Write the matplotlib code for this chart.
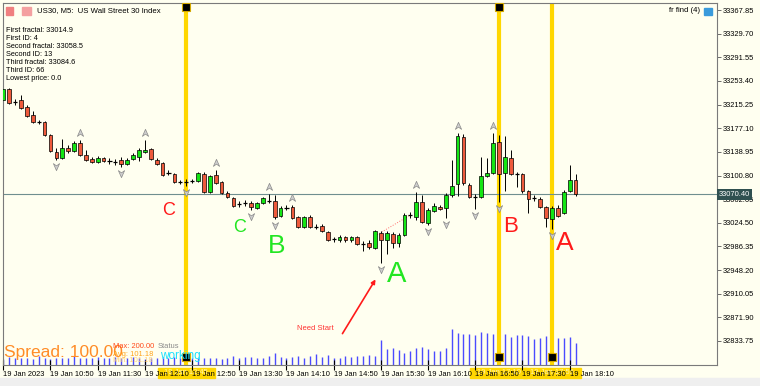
import matplotlib
matplotlib.use('Agg')
import matplotlib.pyplot as plt
import matplotlib.transforms as mtransforms
from matplotlib.patches import Rectangle, FancyArrowPatch
from matplotlib.path import Path
import numpy as np

# US30 M5 candles, 19 Jan 2023 10:10 .. 18:15
opens = [33222.6, 33240.4, 33219.4, 33222.6, 33211.3, 33198.4, 33187.1, 33187.1, 33166.2, 33138.7,
         33129.0, 33145.2, 33140.3, 33153.2, 33133.9, 33127.4, 33122.6, 33129.0, 33124.2, 33122.6,
         33125.8, 33119.4, 33127.4, 33130.6, 33138.7, 33143.6, 33125.8, 33121.0, 33104.8, 33103.2,
         33090.3, 33090.3, 33091.9, 33091.9, 33103.2, 33074.2, 33101.6, 33090.3, 33072.6, 33064.5,
         33054.8, 33056.4, 33056.4, 33048.4, 33056.4, 33059.6, 33059.6, 33035.4, 33048.4, 33050.0,
         33033.8, 33017.7, 33033.8, 33017.7, 33019.3, 33009.6, 32998.3, 32996.7, 33001.6, 32996.7,
         33001.6, 32990.3, 32991.9, 32983.8, 33008.0, 32996.7, 33006.4, 32991.9, 33004.8, 33037.1,
         33033.8, 33058.0, 33024.1, 33043.5, 33050.0, 33048.4, 33069.3, 33087.1, 33162.9, 33085.5,
         33066.1, 33066.1, 33100.0, 33104.8, 33154.9, 33104.8, 33129.0, 33103.2, 33103.2, 33075.8,
         33064.5, 33062.9, 33050.0, 33030.6, 33048.4, 33040.3, 33075.8, 33093.5]
closes = [33240.4, 33217.8, 33219.4, 33209.7, 33196.8, 33187.1, 33187.6, 33166.2, 33140.3, 33129.0,
          33145.2, 33140.3, 33153.2, 33133.9, 33125.8, 33122.6, 33129.0, 33124.2, 33123.8, 33122.2,
          33119.4, 33125.8, 33133.9, 33141.9, 33141.9, 33127.4, 33119.4, 33101.6, 33104.4, 33090.3,
          33089.9, 33090.7, 33092.3, 33104.8, 33074.2, 33100.0, 33088.7, 33072.6, 33066.1, 33051.6,
          33054.4, 33056.8, 33050.0, 33056.4, 33064.5, 33060.0, 33033.8, 33048.4, 33048.8, 33032.2,
          33017.7, 33033.8, 33017.7, 33017.3, 33011.2, 32996.7, 32998.7, 33001.6, 32996.7, 33001.6,
          32990.3, 32990.7, 32985.4, 33011.2, 32996.7, 33008.0, 32991.9, 33004.8, 33037.1, 33037.5,
          33058.0, 33025.8, 33045.1, 33051.6, 33046.7, 33069.3, 33083.9, 33164.5, 33088.7, 33066.1,
          33066.5, 33100.0, 33104.8, 33153.2, 33103.2, 33130.6, 33103.2, 33102.8, 33075.8, 33062.9,
          33064.9, 33050.0, 33032.2, 33048.4, 33035.4, 33074.2, 33093.5, 33070.4]
highs = [33243.6, 33242.0, 33224.2, 33230.7, 33214.6, 33204.9, 33190.4, 33188.7, 33167.8, 33145.2,
         33159.7, 33150.0, 33156.5, 33158.1, 33141.9, 33130.6, 33132.3, 33130.6, 33129.0, 33127.4,
         33130.6, 33129.0, 33137.1, 33145.2, 33158.1, 33145.2, 33129.0, 33122.6, 33109.7, 33104.8,
         33093.5, 33095.2, 33095.2, 33106.4, 33106.4, 33101.6, 33109.7, 33091.9, 33075.8, 33066.1,
         33059.6, 33061.3, 33059.6, 33058.0, 33066.1, 33070.9, 33069.3, 33051.6, 33053.2, 33053.2,
         33035.4, 33035.4, 33037.1, 33022.5, 33022.5, 33011.2, 33001.6, 33004.8, 33003.2, 33003.2,
         33003.2, 32995.1, 32996.7, 33012.8, 33011.2, 33011.2, 33009.6, 33008.0, 33040.3, 33041.9,
         33074.2, 33069.3, 33048.4, 33056.4, 33053.2, 33072.6, 33125.8, 33169.4, 33167.8, 33088.7,
         33070.9, 33130.6, 33129.0, 33169.4, 33166.2, 33164.5, 33141.9, 33106.4, 33104.8, 33077.4,
         33069.3, 33066.1, 33051.6, 33051.6, 33053.2, 33077.4, 33117.7, 33103.2]
lows = [33219.4, 33216.2, 33214.6, 33208.1, 33195.2, 33185.5, 33183.9, 33164.5, 33138.7, 33125.8,
        33127.4, 33137.1, 33138.7, 33132.3, 33124.2, 33121.0, 33121.0, 33122.6, 33119.4, 33117.7,
        33114.5, 33117.7, 33125.8, 33124.2, 33137.1, 33125.8, 33117.7, 33100.0, 33101.6, 33088.7,
        33087.1, 33084.6, 33088.7, 33090.3, 33072.6, 33072.6, 33087.1, 33070.9, 33064.5, 33050.0,
        33050.0, 33051.6, 33045.1, 33046.7, 33054.8, 33056.4, 33030.6, 33033.8, 33045.1, 33030.6,
        33016.1, 33016.1, 33016.1, 33014.5, 33009.6, 32995.1, 32993.5, 32993.5, 32993.5, 32993.5,
        32988.6, 32979.0, 32982.2, 32982.2, 32959.6, 32974.1, 32983.8, 32985.4, 33003.2, 33032.2,
        33029.0, 33024.1, 33020.9, 33041.9, 33045.1, 33032.2, 33066.1, 33067.7, 33085.5, 33064.5,
        33046.7, 33064.5, 33098.4, 33103.2, 33058.5, 33075.8, 33101.6, 33082.2, 33072.6, 33040.3,
        33059.6, 33048.4, 33017.7, 33014.9, 33033.8, 33038.7, 33074.2, 33067.7]
tick_volume = [60, 80, 70, 70, 70, 60, 90, 70, 60, 70, 70, 70, 90, 70, 70, 70, 80, 70, 70, 80,
               70, 70, 80, 70, 60, 70, 70, 80, 70, 80, 70, 80, 70, 70, 70, 70, 70, 60, 70, 90,
               70, 80, 77, 70, 67, 87, 117, 77, 67, 77, 87, 67, 87, 110, 83, 100, 70, 70, 93, 83,
               87, 93, 103, 87, 250, 160, 167, 153, 120, 143, 167, 183, 160, 143, 143, 173, 360, 320, 313, 313,
               300, 330, 320, 310, 300, 310, 283, 303, 303, 293, 257, 270, 287, 277, 270, 270, 277, 220]

up_fractals = [13, 24, 36, 45, 49, 70, 77, 83]
down_fractals = [9, 20, 31, 42, 46, 64, 72, 75, 80, 84, 93]
marked_bars = [31, 84, 93]
marked_times = ['19 Jan 12:45', '19 Jan 17:10', '19 Jan 17:55']
trend_bars = [63, 69]
trend_prices = [33003.2, 33037.1]
current_price = 33070.40

price_ticks = [33367.85, 33329.70, 33291.55, 33253.40, 33215.25, 33177.10, 33138.95, 33100.80,
               33062.65, 33024.50, 32986.35, 32948.20, 32910.05, 32871.90, 32833.75]
time_ticks = [0, 8, 16, 24, 32, 40, 48, 56, 64, 72, 80, 88, 96]
time_labels = ['19 Jan 2023', '19 Jan 10:50', '19 Jan 11:30', '19 Jan 12:10', '19 Jan 12:50',
               '19 Jan 13:30', '19 Jan 14:10', '19 Jan 14:50', '19 Jan 15:30', '19 Jan 16:10',
               '19 Jan 16:50', '19 Jan 17:30', '19 Jan 18:10']
info_lines = ['First fractal: 33014.9', 'First ID: 4', 'Second fractal: 33058.5', 'Second ID: 13',
              'Third fractal: 33084.6', 'Third ID: 66', 'Lowest price: 0.0']

W, H = 760, 386
BG = '#FFFFF0'
plt.rcParams['font.family'] = ['Liberation Sans', 'DejaVu Sans']


def fx(px):
    return px / W


def fy(py):
    return 1 - py / H


fig = plt.figure(figsize=(W / 100, H / 100), dpi=100, facecolor=BG)
ax = fig.add_axes([fx(3), fy(365), fx(717) - fx(3), fy(3) - fy(365)])
vax = ax.twinx()
ax.set_zorder(2)
vax.set_zorder(1)
ax.patch.set_visible(False)

ax.set_xlim(-0.05, 120.97)
ax.set_ylim(32795.0, 33379.2)

x = np.arange(len(opens))
o = np.array(opens)
c = np.array(closes)

# volume + marker lines live on the twin axes (behind the candles)
vax.vlines(x, 0, tick_volume, color='#4B4BFF', lw=1.0, zorder=1)
for b in marked_bars:
    vax.axvline(b, color='#FFD700', lw=3.0, zorder=2)
vax.set_ylim(0, 3620)
vax.axis('off')

# price line
ax.axhline(current_price, color='#6F8F8F', lw=0.8, zorder=1)
ax.plot(trend_bars, trend_prices, color='#FF7070', lw=0.7, ls=':', zorder=1.5)

# candles
ax.vlines(x, lows, highs, color='black', lw=0.7, zorder=2)
bull = c > o + 0.5
bear = c < o - 0.5
doji = ~(bull | bear)
ax.bar(x[bull], (c - o)[bull], bottom=o[bull], width=0.62, color='#14E614',
       edgecolor='black', linewidth=0.5, zorder=3)
ax.bar(x[bear], (o - c)[bear], bottom=c[bear], width=0.62, color='#EE5A3C',
       edgecolor='black', linewidth=0.5, zorder=3)
ax.hlines(c[doji], x[doji] - 0.35, x[doji] + 0.35, color='black', lw=0.9, zorder=3)

# fractal arrows
up_marker = Path([(0, 1), (0.75, -0.7), (0, -0.15), (-0.75, -0.7), (0, 1)],
                 [Path.MOVETO, Path.LINETO, Path.LINETO, Path.LINETO, Path.CLOSEPOLY])
down_marker = Path([(0, -1), (0.75, 0.7), (0, 0.15), (-0.75, 0.7), (0, -1)],
                   [Path.MOVETO, Path.LINETO, Path.LINETO, Path.LINETO, Path.CLOSEPOLY])
hi = np.array(highs)
lo = np.array(lows)
ax.plot(up_fractals, hi[up_fractals] + 11, ls='none', marker=up_marker, ms=6,
        mfc='#CFCFCF', mec='#8A8A8A', mew=0.5, zorder=3)
ax.plot(down_fractals, lo[down_fractals] - 10, ls='none', marker=down_marker, ms=6,
        mfc='#CFCFCF', mec='#8A8A8A', mew=0.5, zorder=3)

# black handles on the vertical lines
trans = mtransforms.blended_transform_factory(ax.transData, ax.transAxes)
ax.plot(marked_bars[:2], [0.989, 0.989], transform=trans, ls='none', marker='s', ms=6.3,
        mfc='black', mec='#D4A800', mew=0.8, clip_on=False, zorder=6)
ax.plot(marked_bars, [0.022] * len(marked_bars), transform=trans, ls='none', marker='s', ms=6.3,
        mfc='black', mec='#D4A800', mew=0.8, clip_on=False, zorder=6)
for b, lab in zip(marked_bars, marked_times):
    ax.add_patch(Rectangle((b - 4.85, -0.036), 9.7, 0.028, transform=trans, color='#FFD700',
                           clip_on=False, zorder=1))
    ax.text(b, -0.022, lab, transform=trans, ha='center', va='center', fontsize=5.4,
            color='#FFF2A8', clip_on=False, zorder=1.5)

# axes styling
ax.yaxis.tick_right()
ax.set_yticks(price_ticks)
ax.set_yticklabels([f'{v:.2f}' for v in price_ticks])
ax.set_xticks(time_ticks)
ax.set_xticklabels(time_labels, ha='left')
ax.tick_params(axis='y', length=3, width=0.6, pad=1, labelsize=5.4, color='#555555')
ax.tick_params(axis='x', direction='inout', length=7, width=0.8, pad=1, labelsize=5.4)
for s in ax.spines.values():
    s.set_color('#7A7A7A')
    s.set_linewidth(0.8)

ptrans = mtransforms.blended_transform_factory(ax.transAxes, ax.transData)
ax.text(1.003, current_price, f'{current_price:.2f}', transform=ptrans, va='center', ha='left',
        fontsize=5.4, color='white', clip_on=False, zorder=7,
        bbox=dict(boxstyle='square,pad=0.25', fc='#2F5050', ec='none'))

# header + info block
fig.add_artist(Rectangle((fx(6), fy(15)), 7 / W, 8 / H, color='#F08080'))
fig.add_artist(Rectangle((fx(22), fy(15)), 9 / W, 8 / H, color='#F4A0A0'))
fig.text(fx(37), fy(11), 'US30, M5:  US Wall Street 30 Index', fontsize=5.6, va='center')
for i, line in enumerate(info_lines):
    fig.text(fx(6), fy(30.7 + 8.05 * i), line, fontsize=5.3, va='center')
fig.text(fx(700), fy(11), 'fr find (4)', fontsize=5.6, va='center', ha='right')
fig.add_artist(Rectangle((fx(704), fy(15)), 8 / W, 7 / H, color='#3A9BDC'))

# hand-drawn notes
red = '#FF1A1A'
green = '#22E622'
for txt, px, py, size, col in [('C', 169, 210, 13, red), ('C', 240, 227, 13, green),
                               ('B', 277, 246, 19, green), ('A', 397, 274, 21, green),
                               ('B', 511, 227, 16, red), ('A', 565, 243, 19, red)]:
    fig.text(fx(px), fy(py), txt, fontsize=size, color=col, ha='center', va='center')
fig.text(fx(315), fy(328), 'Need Start', fontsize=5.5, color='#FF3030', ha='center', va='center')
fig.add_artist(FancyArrowPatch((fx(341), fy(336)), (fx(377), fy(277)), transform=fig.transFigure,
                               arrowstyle='-|>', mutation_scale=6, color=red, lw=1.2))

# spread panel
fig.text(fx(4), fy(352), 'Spread: 100.00', fontsize=12.5, color='#FF8C26', va='center', zorder=5)
fig.text(fx(113), fy(347), 'Max: 200.00', fontsize=5.4, color='#FF4A1A', va='center', zorder=6)
fig.text(fx(113), fy(354), 'Avg: 101.18', fontsize=5.4, color='#FFA51A', va='center', zorder=6)
fig.text(fx(113), fy(361), 'Min: 101.18', fontsize=5.4, color='#FFD27A', va='center', zorder=6)
fig.text(fx(158), fy(347), 'Status', fontsize=5.4, color='#8A8A8A', va='center', zorder=6)
fig.text(fx(160), fy(356), 'working', fontsize=8.5, color='#19E0FF', va='center', zorder=6)

# bottom tab strip
fig.add_artist(Rectangle((0, 0), 1, 8 / H, color='#EFEFEF', zorder=0))

fig.savefig('out.png', dpi=100, facecolor=BG)
